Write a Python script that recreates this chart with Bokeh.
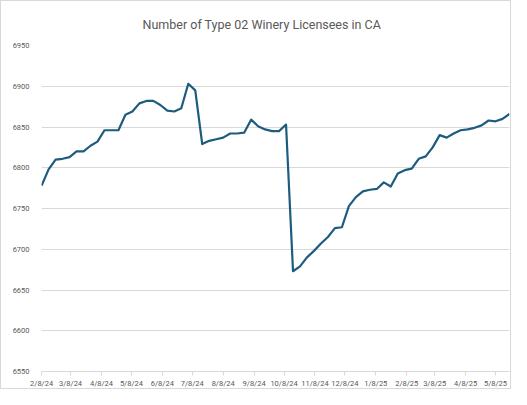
import pandas as pd
from bokeh.plotting import figure
from bokeh.models import Range1d, FixedTicker, DatetimeTickFormatter
from bokeh.embed import file_html
from bokeh.resources import INLINE

title_text = "Number of Type 02 Winery Licensees in CA"
start_date = "2024-02-08"
licensees = [
    6778, 6798, 6810, 6811, 6813, 6820, 6820, 6827, 6832, 6846,
    6846, 6846, 6865, 6869, 6879, 6882, 6882, 6877, 6870, 6869,
    6873, 6903, 6895, 6829, 6833, 6835, 6837, 6842, 6842, 6843,
    6859, 6851, 6847, 6845, 6845, 6853, 6673, 6679, 6690, 6698,
    6707, 6715, 6726, 6727, 6753, 6764, 6771, 6773, 6774, 6782,
    6777, 6793, 6797, 6799, 6811, 6814, 6825, 6840, 6837, 6842,
    6846, 6847, 6849, 6852, 6858, 6857, 6860, 6866,
]
dates = pd.date_range(start_date, periods=len(licensees), freq="7D")
tick_dates = pd.date_range("2024-02-01", "2025-05-01", freq="MS") + pd.Timedelta(days=7)
y_ticks = [6550, 6600, 6650, 6700, 6750, 6800, 6850, 6900, 6950]

FONT = "Roboto"
GREY = "#595959"
GRID = "#d9d9d9"

crisp_css = """
[stroke="#d9d9d9"], [stroke="rgb(217, 217, 217)"], [stroke="rgb(217,217,217)"],
[stroke="rgba(217, 217, 217, 1)"] { shape-rendering: crispEdges; }
"""

p = figure(width=511, height=389, x_axis_type="datetime",
           output_backend="svg", toolbar_location=None,
           x_range=Range1d(dates[0] - pd.Timedelta(hours=3), dates[-1]),
           y_range=Range1d(6550, 6950),
           min_border_left=40, min_border_right=3,
           min_border_top=42, min_border_bottom=4)
p.stylesheets = [crisp_css]
p.title.text = title_text
p.title.align = "left"
p.title.offset = 101
p.title.standoff = 27
p.title.text_font = FONT
p.title.text_font_size = "12.5px"
p.title.text_font_style = "normal"
p.title.text_color = GREY
p.outline_line_color = None
p.background_fill_color = "white"
p.border_fill_color = "white"
p.styles = {"border": "1px solid #d9d9d9", "box-sizing": "border-box"}

p.ygrid.grid_line_color = GRID
p.ygrid.grid_line_width = 1
p.xgrid.grid_line_color = None

p.line(dates, licensees, line_color="#1d5c7e", line_width=2.2, line_join="round")

p.xaxis.ticker = FixedTicker(ticks=[d.value // 10**6 for d in tick_dates])
fmt = "%-m/%-d/%y"
p.xaxis.formatter = DatetimeTickFormatter(days=fmt, months=fmt, years=fmt,
                                          hours=fmt, minutes=fmt, seconds=fmt)
p.xaxis.axis_line_color = GRID
p.xaxis.axis_line_width = 1
p.xaxis.major_tick_line_color = GRID
p.xaxis.major_tick_line_width = 1
p.xaxis.major_tick_out = 4
p.xaxis.major_tick_in = 0
p.xaxis.minor_tick_line_color = None
p.xaxis.major_label_text_font = FONT
p.xaxis.major_label_text_font_size = "7.5px"
p.xaxis.major_label_text_color = GREY
p.xaxis.major_label_standoff = 3

p.yaxis.ticker = FixedTicker(ticks=y_ticks)
p.yaxis.axis_line_color = None
p.yaxis.major_tick_line_color = None
p.yaxis.minor_tick_line_color = None
p.yaxis.major_label_text_font = FONT
p.yaxis.major_label_text_font_size = "7.5px"
p.yaxis.major_label_text_color = GREY
p.yaxis.major_label_standoff = 6

open("out.html", "w").write(file_html(p, INLINE))
